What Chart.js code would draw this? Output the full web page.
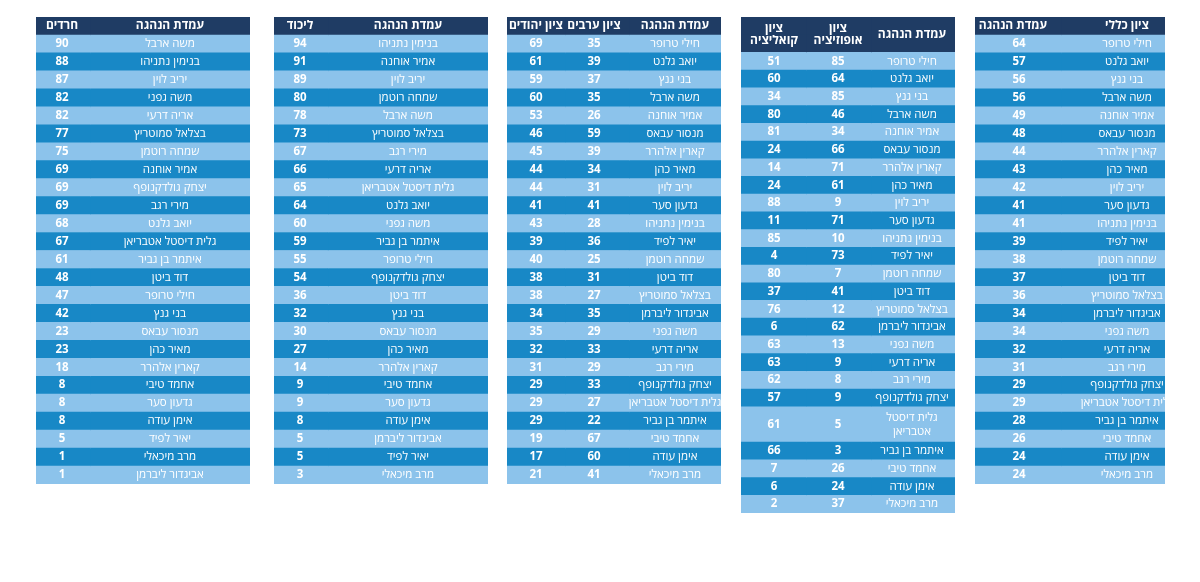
<!DOCTYPE html>
<html lang="he">
<head>
<meta charset="utf-8">
<script src="https://cdn.jsdelivr.net/npm/chart.js@4.4.1/dist/chart.umd.min.js"></script>
<style>
html,body{margin:0;padding:0;background:#ffffff;width:1200px;height:582px;overflow:hidden}
.tbl{position:absolute}
.tbl canvas{display:block}
</style>
</head>
<body>
<div class="tbl" style="left:975px;top:17px;width:190px;height:467px"><canvas id="t1"></canvas></div>
<div class="tbl" style="left:741px;top:17px;width:214px;height:496px"><canvas id="t2"></canvas></div>
<div class="tbl" style="left:507px;top:17px;width:214px;height:467px"><canvas id="t3"></canvas></div>
<div class="tbl" style="left:274px;top:17px;width:214px;height:467px"><canvas id="t4"></canvas></div>
<div class="tbl" style="left:36px;top:17px;width:214px;height:467px"><canvas id="t5"></canvas></div>
<script>
// ---------- DATA ----------
// Table 1: overall score
const names1 = ['חילי טרופר','יואב גלנט','בני גנץ','משה ארבל','אמיר אוחנה','מנסור עבאס','קארין אלהרר','מאיר כהן','יריב לוין','גדעון סער','בנימין נתניהו','יאיר לפיד','שמחה רוטמן','דוד ביטן','בצלאל סמוטריץ','אביגדור ליברמן','משה גפני','אריה דרעי','מירי רגב','יצחק גולדקנופף','גלית דיסטל אטבריאן','איתמר בן גביר','אחמד טיבי','אימן עודה','מרב מיכאלי'];
const overallScore = [64,57,56,56,49,48,44,43,42,41,41,39,38,37,36,34,34,32,31,29,29,28,26,24,24];
const headers1 = ['עמדת הנהגה','ציון כללי'];

// Table 2: opposition / coalition score
const names2 = ['חילי טרופר','יואב גלנט','בני גנץ','משה ארבל','אמיר אוחנה','מנסור עבאס','קארין אלהרר','מאיר כהן','יריב לוין','גדעון סער','בנימין נתניהו','יאיר לפיד','שמחה רוטמן','דוד ביטן','בצלאל סמוטריץ','אביגדור ליברמן','משה גפני','אריה דרעי','מירי רגב','יצחק גולדקנופף','גלית דיסטל אטבריאן','איתמר בן גביר','אחמד טיבי','אימן עודה','מרב מיכאלי'];
const oppositionScore = [85,64,85,46,34,66,71,61,9,71,10,73,7,41,12,62,13,9,8,9,5,3,26,24,37];
const coalitionScore  = [51,60,34,80,81,24,14,24,88,11,85,4,80,37,76,6,63,63,62,57,61,66,7,6,2];
const headers2 = [['ציון','קואליציה'],['ציון','אופוזיציה'],['עמדת הנהגה']];

// Table 3: Arabs / Jews score
const names3 = ['חילי טרופר','יואב גלנט','בני גנץ','משה ארבל','אמיר אוחנה','מנסור עבאס','קארין אלהרר','מאיר כהן','יריב לוין','גדעון סער','בנימין נתניהו','יאיר לפיד','שמחה רוטמן','דוד ביטן','בצלאל סמוטריץ','אביגדור ליברמן','משה גפני','אריה דרעי','מירי רגב','יצחק גולדקנופף','גלית דיסטל אטבריאן','איתמר בן גביר','אחמד טיבי','אימן עודה','מרב מיכאלי'];
const arabsScore = [35,39,37,35,26,59,39,34,31,41,28,36,25,31,27,35,29,33,29,33,27,22,67,60,41];
const jewsScore  = [69,61,59,60,53,46,45,44,44,41,43,39,40,38,38,34,35,32,31,29,29,29,19,17,21];
const headers3 = ['ציון יהודים','ציון ערבים','עמדת הנהגה'];

// Table 4: Likud
const names4 = ['בנימין נתניהו','אמיר אוחנה','יריב לוין','שמחה רוטמן','משה ארבל','בצלאל סמוטריץ','מירי רגב','אריה דרעי','גלית דיסטל אטבריאן','יואב גלנט','משה גפני','איתמר בן גביר','חילי טרופר','יצחק גולדקנופף','דוד ביטן','בני גנץ','מנסור עבאס','מאיר כהן','קארין אלהרר','אחמד טיבי','גדעון סער','אימן עודה','אביגדור ליברמן','יאיר לפיד','מרב מיכאלי'];
const likudScore = [94,91,89,80,78,73,67,66,65,64,60,59,55,54,36,32,30,27,14,9,9,8,5,5,3];
const headers4 = ['ליכוד','עמדת הנהגה'];

// Table 5: Haredim
const names5 = ['משה ארבל','בנימין נתניהו','יריב לוין','משה גפני','אריה דרעי','בצלאל סמוטריץ','שמחה רוטמן','אמיר אוחנה','יצחק גולדקנופף','מירי רגב','יואב גלנט','גלית דיסטל אטבריאן','איתמר בן גביר','דוד ביטן','חילי טרופר','בני גנץ','מנסור עבאס','מאיר כהן','קארין אלהרר','אחמד טיבי','גדעון סער','אימן עודה','יאיר לפיד','מרב מיכאלי','אביגדור ליברמן'];
const haredimScore = [90,88,87,82,82,77,75,69,69,69,68,67,61,48,47,42,23,23,18,8,8,8,5,1,1];
const headers5 = ['חרדים','עמדת הנהגה'];

// ---------- STYLE ----------
const NAVY = '#1f3c64', LIGHT = '#8cc3eb', DARK = '#1888c6';
const FAMILY = '"Open Sans","Liberation Sans","DejaVu Sans",sans-serif';
const HEAD_FONT = 'bold 12px ' + FAMILY;
const NAME_FONT = '11.5px ' + FAMILY;
const VAL_FONT  = 'bold 11.5px ' + FAMILY;

function buildTable(id, spec) {
  const slots = [];
  for (let i = 0; i < spec.headerSlots; i++) slots.push(-1);
  spec.names.forEach((n, r) => {
    const span = (spec.wrap && spec.wrap[n]) ? 2 : 1;
    for (let k = 0; k < span; k++) slots.push(r);
  });
  const labels = slots.map((r, i) => 's' + i);
  const colors = slots.map(r => r < 0 ? NAVY : (r % 2 === 0 ? LIGHT : DARK));
  const datasets = spec.bands.map(b => ({
    data: slots.map(() => [b[0], b[1]]),
    backgroundColor: colors,
    borderWidth: 0,
    barPercentage: 1,
    categoryPercentage: 1,
    grouped: false
  }));

  function drawLines(ctx, lines, x, y, font, lh) {
    ctx.font = font;
    const n = lines.length;
    lines.forEach((t, i) => ctx.fillText(t, x, y + (i - (n - 1) / 2) * lh));
  }

  const textPlugin = {
    id: 'cellText_' + id,
    afterDatasetsDraw(chart) {
      const ctx = chart.ctx;
      const meta = chart.getDatasetMeta(0);
      const xs = chart.scales.x;
      const rowY = r => {
        let s = 0, c = 0;
        slots.forEach((v, i) => { if (v === r) { s += meta.data[i].y; c++; } });
        return s / c;
      };
      ctx.save();
      ctx.fillStyle = '#ffffff';
      ctx.textAlign = 'center';
      ctx.textBaseline = 'middle';
      const hy = rowY(-1);
      spec.headers.forEach((h, i) => {
        const lines = Array.isArray(h) ? h : [h];
        drawLines(ctx, lines, xs.getPixelForValue(spec.headerTx[i]), hy, HEAD_FONT, 12);
      });
      spec.names.forEach((n, r) => {
        const y = rowY(r);
        const lines = (spec.wrap && spec.wrap[n]) ? spec.wrap[n] : [n];
        drawLines(ctx, lines, xs.getPixelForValue(spec.nameTx), y, NAME_FONT, 14);
        spec.columns.forEach(c => {
          drawLines(ctx, [String(c.values[r])], xs.getPixelForValue(c.tx), y, VAL_FONT, 14);
        });
      });
      ctx.restore();
    }
  };

  return new Chart(document.getElementById(id), {
    type: 'bar',
    data: { labels, datasets },
    options: {
      indexAxis: 'y',
      responsive: true,
      maintainAspectRatio: false,
      animation: false,
      events: [],
      layout: { padding: 0 },
      plugins: { legend: { display: false }, tooltip: { enabled: false } },
      scales: {
        x: { type: 'linear', min: 0, max: spec.width, display: false },
        y: { type: 'category', display: false, offset: true }
      }
    },
    plugins: [textPlugin]
  });
}

buildTable('t1', {
  width: 190, headerSlots: 1, names: names1,
  bands: [[0, 86], [86, 190]],
  headers: headers1, headerTx: [38, 152],
  nameTx: 152,
  columns: [{ values: overallScore, tx: 44 }]
});

buildTable('t2', {
  width: 214, headerSlots: 2, names: names2,
  bands: [[0, 65], [65, 130], [130, 214]],
  headers: headers2, headerTx: [33, 97, 171],
  nameTx: 171,
  wrap: { 'גלית דיסטל אטבריאן': ['גלית דיסטל', 'אטבריאן'] },
  columns: [{ values: coalitionScore, tx: 33 }, { values: oppositionScore, tx: 97 }]
});

buildTable('t3', {
  width: 214, headerSlots: 1, names: names3,
  bands: [[0, 58], [58, 122], [122, 214]],
  headers: headers3, headerTx: [29, 87, 168],
  nameTx: 168,
  columns: [{ values: jewsScore, tx: 29 }, { values: arabsScore, tx: 87 }]
});

buildTable('t4', {
  width: 214, headerSlots: 1, names: names4,
  bands: [[0, 54], [54, 214]],
  headers: headers4, headerTx: [26, 134],
  nameTx: 134,
  columns: [{ values: likudScore, tx: 26 }]
});

buildTable('t5', {
  width: 214, headerSlots: 1, names: names5,
  bands: [[0, 54], [54, 214]],
  headers: headers5, headerTx: [26, 134],
  nameTx: 134,
  columns: [{ values: haredimScore, tx: 26 }]
});
</script>
</body>
</html>
